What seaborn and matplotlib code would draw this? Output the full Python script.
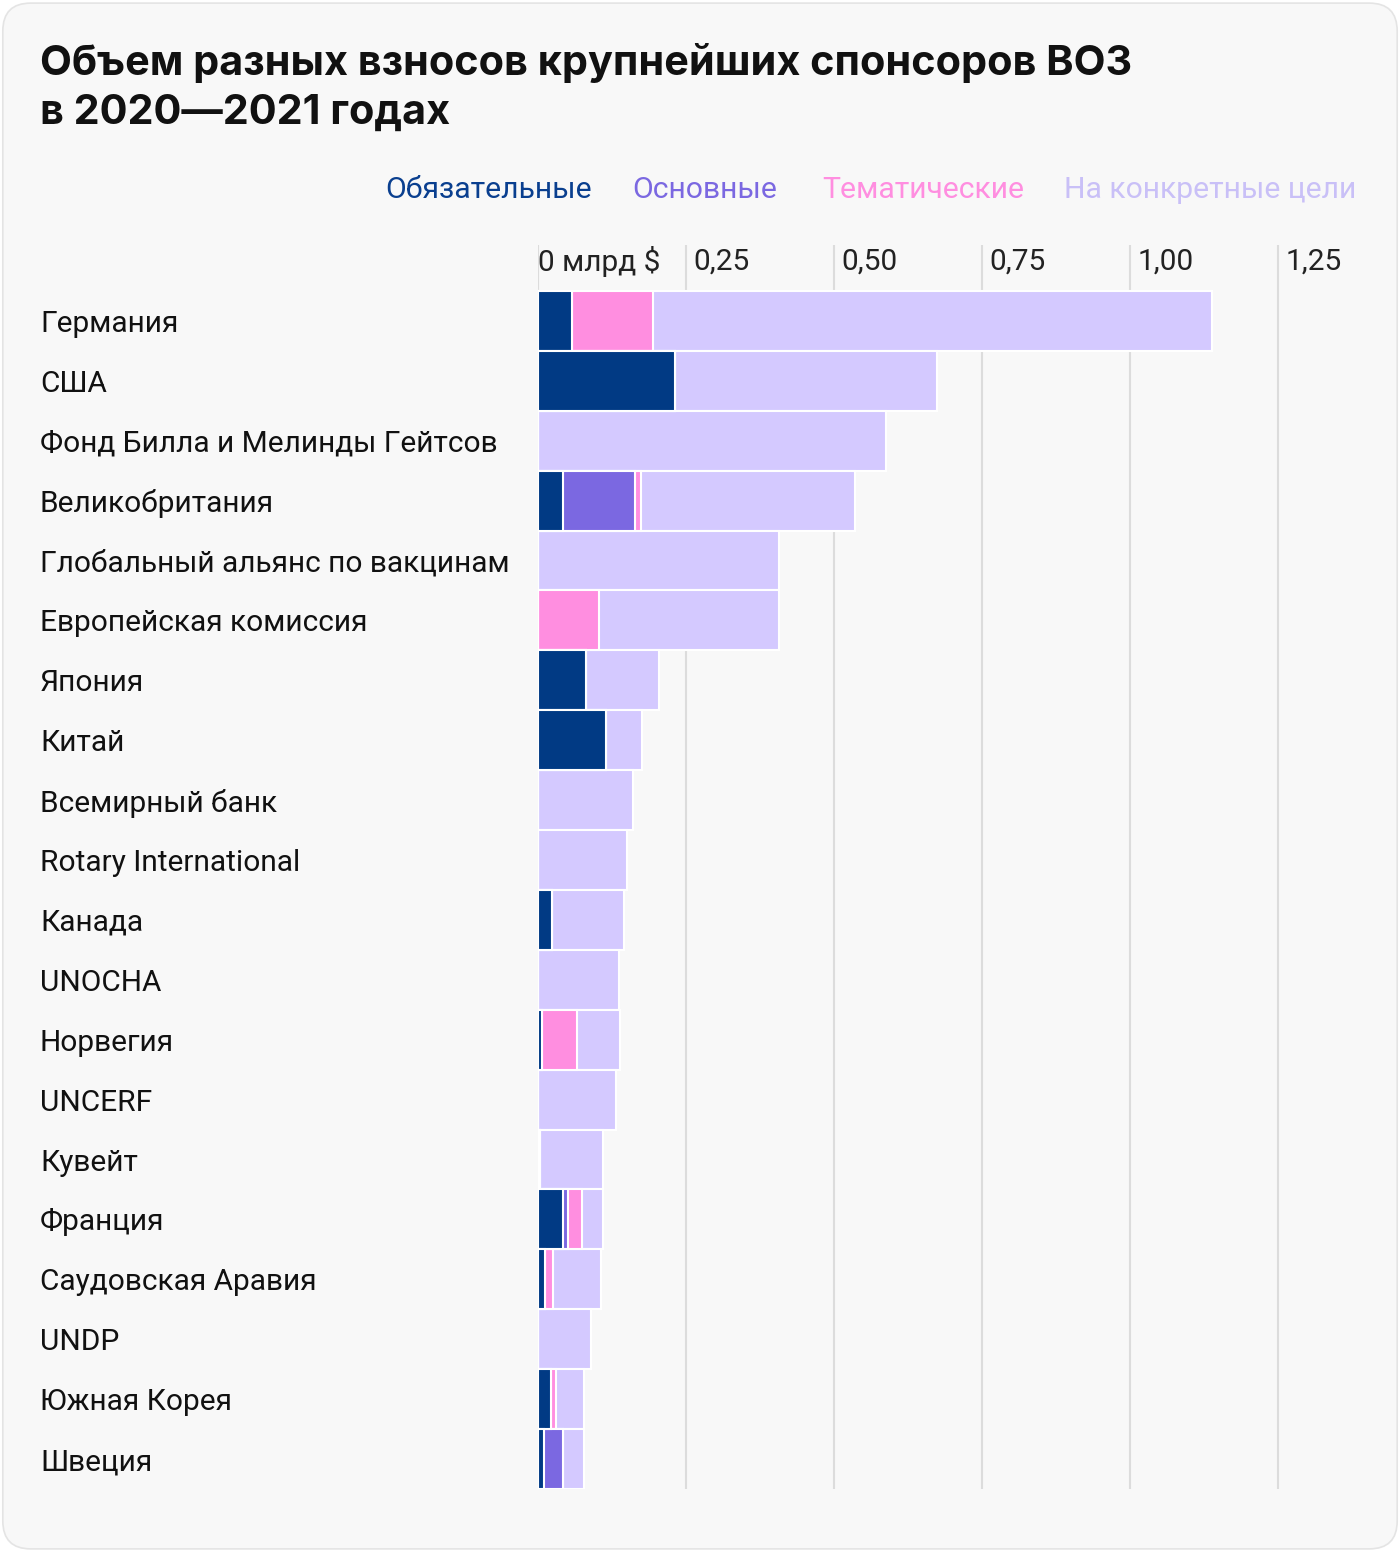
import numpy as np
import pandas as pd
import matplotlib.pyplot as plt
import seaborn as sns
from matplotlib.patches import FancyBboxPatch
from matplotlib import transforms

# data: contributions, bln $
donors = ['Германия', 'США', 'Фонд Билла и Мелинды Гейтсов', 'Великобритания',
          'Глобальный альянс по вакцинам', 'Европейская комиссия', 'Япония', 'Китай',
          'Всемирный банк', 'Rotary International', 'Канада', 'UNOCHA', 'Норвегия',
          'UNCERF', 'Кувейт', 'Франция', 'Саудовская Аравия', 'UNDP', 'Южная Корея', 'Швеция']
assessed = [0.058, 0.231, 0.0, 0.043, 0.0, 0.0, 0.081, 0.115, 0.0, 0.0,
            0.024, 0.0, 0.007, 0.0, 0.004, 0.043, 0.012, 0.0, 0.022, 0.010]
core = [0.0, 0.0, 0.0, 0.121, 0.0, 0.0, 0.0, 0.0, 0.0, 0.0,
        0.0, 0.0, 0.0, 0.0, 0.0, 0.008, 0.0, 0.0, 0.0, 0.033]
thematic = [0.137, 0.0, 0.0, 0.010, 0.0, 0.103, 0.0, 0.0, 0.0, 0.0,
            0.0, 0.0, 0.059, 0.0, 0.0, 0.023, 0.013, 0.0, 0.008, 0.0]
specified = [0.943, 0.442, 0.588, 0.362, 0.407, 0.304, 0.123, 0.061, 0.160, 0.150,
             0.121, 0.137, 0.072, 0.131, 0.106, 0.036, 0.082, 0.090, 0.047, 0.034]

series_names = ['Обязательные', 'Основные', 'Тематические', 'На конкретные цели']
colors = ['#013a84', '#7b68e1', '#ff8ee0', '#d4c9ff']
legend_colors = ['#0a3f8f', '#7b68e1', '#ff8ee0', '#c9c0f7']
ticks = [0, 0.25, 0.5, 0.75, 1.0, 1.25]
tick_labels = ['0 млрд $', '0,25', '0,50', '0,75', '1,00', '1,25']

df = pd.DataFrame({'donor': donors, 'a': assessed, 'c': core, 't': thematic, 's': specified})
df['c1'] = df['a']
df['c2'] = df['c1'] + df['c']
df['c3'] = df['c2'] + df['t']
df['c4'] = df['c3'] + df['s']

sns.set_theme(style='white')
plt.rcParams['font.family'] = ['Roboto', 'DejaVu Sans']

fig = plt.figure(figsize=(14, 15.52), dpi=100)
fig.patch.set_facecolor('white')
card = FancyBboxPatch((0.002, 0.002), 0.996, 0.996, boxstyle='round,pad=0,rounding_size=0.02',
                      transform=fig.transFigure, facecolor='#f8f8f8', edgecolor='#e4e4e4',
                      linewidth=1.2, mutation_aspect=1400 / 1552, zorder=-10)
fig.patches.append(card)

ax = fig.add_axes([538 / 1400, 1 - 1489 / 1552, 752 / 1400, 1244 / 1552])
ax.set_facecolor('none')

# stacked bars drawn as overlapping cumulative sums
for col, color in zip(['c4', 'c3', 'c2', 'c1'], colors[::-1]):
    sns.barplot(data=df, x=col, y='donor', orient='h', color=color, width=1.0,
                edgecolor='white', linewidth=1.5, saturation=1, ax=ax, zorder=3)

ax.set_xlim(0, 1.27)
ax.set_ylim(19.5, -1.267)
for s in ax.spines.values():
    s.set_visible(False)
ax.set_xlabel('')
ax.set_ylabel('')
ax.set_xticks([])
for t in ticks:
    ax.axvline(t, color='#dcdcdc', linewidth=1.5, zorder=1)

trans = transforms.blended_transform_factory(ax.transData, ax.transAxes)
offset = transforms.ScaledTranslation(5 / 72, 0, fig.dpi_scale_trans)
for t, lab in zip(ticks, tick_labels):
    ax.text(t, 0.987, lab, transform=trans + (offset if t > 0 else transforms.Affine2D()),
            ha='left', va='center', fontsize=21.5, color='#222222')

ax.tick_params(axis='y', length=0, pad=(538 - 40) * 72 / 100)
ax.set_yticks(range(len(donors)))
ax.set_yticklabels(donors, fontsize=21.5, color='#111111', ha='left')

fig.text(40 / 1400, 1 - 63 / 1552, 'Объем разных взносов крупнейших спонсоров ВОЗ',
         fontsize=29.8, fontweight='bold', family=['Inter', 'DejaVu Sans'], va='center', color='#111111')
fig.text(40 / 1400, 1 - 113 / 1552, 'в 2020—2021 годах',
         fontsize=29.8, fontweight='bold', family=['Inter', 'DejaVu Sans'], va='center', color='#111111')

legend_x = [385, 632, 822, 1064]
for x, name, c in zip(legend_x, series_names, legend_colors):
    fig.text(x / 1400, 1 - 190 / 1552, name, fontsize=21.7, color=c, va='center', ha='left')

fig.savefig('out.png', dpi=100, facecolor='white')
